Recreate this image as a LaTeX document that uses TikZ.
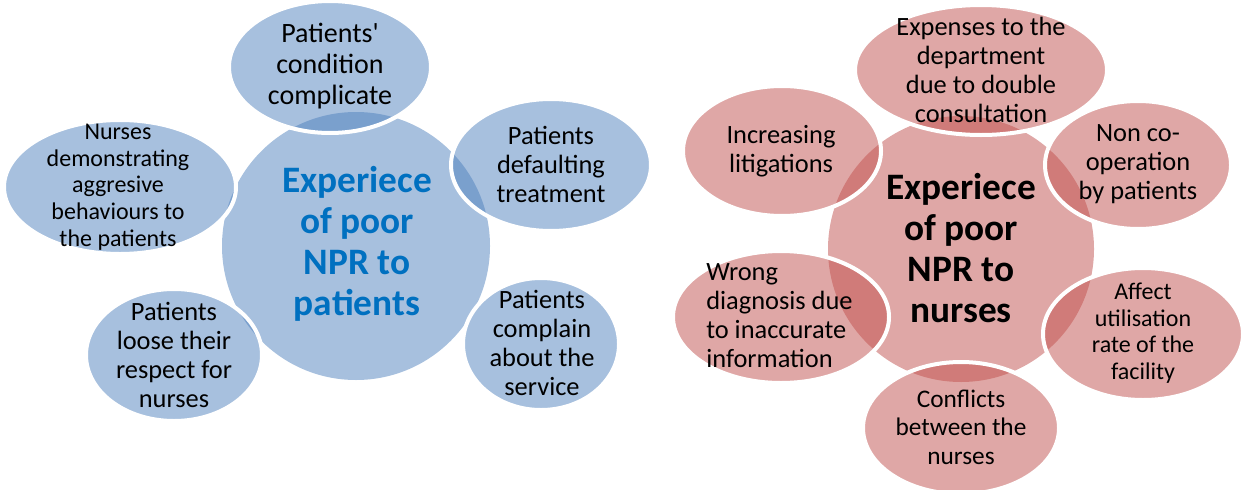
\documentclass[tikz,border=0pt]{standalone}
\usepackage{fontspec}
\setmainfont{Carlito}
\usetikzlibrary{shapes.geometric}
\definecolor{npblue}{RGB}{79, 129, 189}
\definecolor{npred}{RGB}{192, 80, 77}
\definecolor{nptitle}{RGB}{0, 112, 192}

\tikzset{
  hub/.style={ellipse, inner sep=0pt, fill opacity=0.5},
  sat/.style={ellipse, inner sep=0pt, fill opacity=0.5, draw=white, line width=3pt},
  lbl/.style={align=center, inner sep=0pt, font=\fontsize{19.8}{21.75}\selectfont},
  lblsm/.style={lbl, font=\fontsize{18}{20}\selectfont},
  lbllg/.style={lbl, font=\fontsize{21}{23.25}\selectfont},
  hublbl/.style={align=center, inner sep=0pt, font=\bfseries\fontsize{28}{30.75}\selectfont}
}

\begin{document}
\begin{tikzpicture}[x=0.75pt, y=-0.75pt]
            \useasboundingbox (0,0) rectangle (1248,489);

            % Patients side
            \node[hub, fill=npblue, minimum width=201pt, minimum height=201pt] (ctrL) at (356,246) {};
            \node[sat, fill=npblue, minimum width=151.5pt, minimum height=99pt] (cond) at (330,67) {};
            \node[sat, fill=npblue, minimum width=150pt, minimum height=99pt] (dflt) at (551,165) {};
            \node[sat, fill=npblue, minimum width=174pt, minimum height=100.5pt] (aggr) at (120,187) {};
            \node[sat, fill=npblue, minimum width=132pt, minimum height=99pt] (resp) at (174,355) {};
            \node[sat, fill=npblue, minimum width=117pt, minimum height=99pt] (cmpl) at (541,344) {};

            \node[hublbl, text=nptitle] (ctrL-t) at (357,244) {Experiece\\of poor\\NPR to\\patients};
            \node[lbllg] (cond-t) at (330,66) {Patients\textquotesingle\\condition\\complicate};
            \node[lbl] (dflt-t) at (551,164) {Patients\\defaulting\\treatment};
            \node[lblsm] (aggr-t) at (118,187) {Nurses\\demonstrating\\aggresive\\behaviours to\\the patients};
            \node[lbl] (resp-t) at (174,355) {Patients\\loose their\\respect for\\nurses};
            \node[lbl] (cmpl-t) at (542,343) {Patients\\complain\\about the\\service};

            % Nurses side
            \node[hub, fill=npred, minimum width=199.5pt, minimum height=199.5pt] (ctrR) at (961,249) {};
            \node[sat, fill=npred, minimum width=189pt, minimum height=97.5pt] (exps) at (981,70) {};
            \node[sat, fill=npred, minimum width=148.5pt, minimum height=97.5pt] (litg) at (782,151) {};
            \node[sat, fill=npred, minimum width=139.5pt, minimum height=96pt] (nonc) at (1138,165) {};
            \node[sat, fill=npred, minimum width=150pt, minimum height=99pt] (affu) at (1143,334) {};
            \node[sat, fill=npred, minimum width=162pt, minimum height=99pt] (wrng) at (781,317) {};
            \node[sat, fill=npred, minimum width=147pt, minimum height=99pt] (cnfl) at (961,428) {};

            \node[hublbl] (ctrR-t) at (961,248) {Experiece\\of poor\\NPR to\\nurses};
            \node[lbl] (exps-t) at (981,70) {Expenses to the\\department\\due to double\\consultation};
            \node[lbl] (litg-t) at (781,151) {Increasing\\litigations};
            \node[lbl] (nonc-t) at (1138,164) {Non co-\\operation\\by patients};
            \node[lblsm] (affu-t) at (1143,333) {Affect\\utilisation\\rate of the\\facility};
            \node[lbl, align=left, anchor=west] (wrng-t) at (706,316) {Wrong\\diagnosis due\\to inaccurate\\information};
            \node[lbl, font=\fontsize{19}{21.4}\selectfont] (cnfl-t) at (961,427) {Conflicts\\between the\\nurses};
\end{tikzpicture}
\end{document}
